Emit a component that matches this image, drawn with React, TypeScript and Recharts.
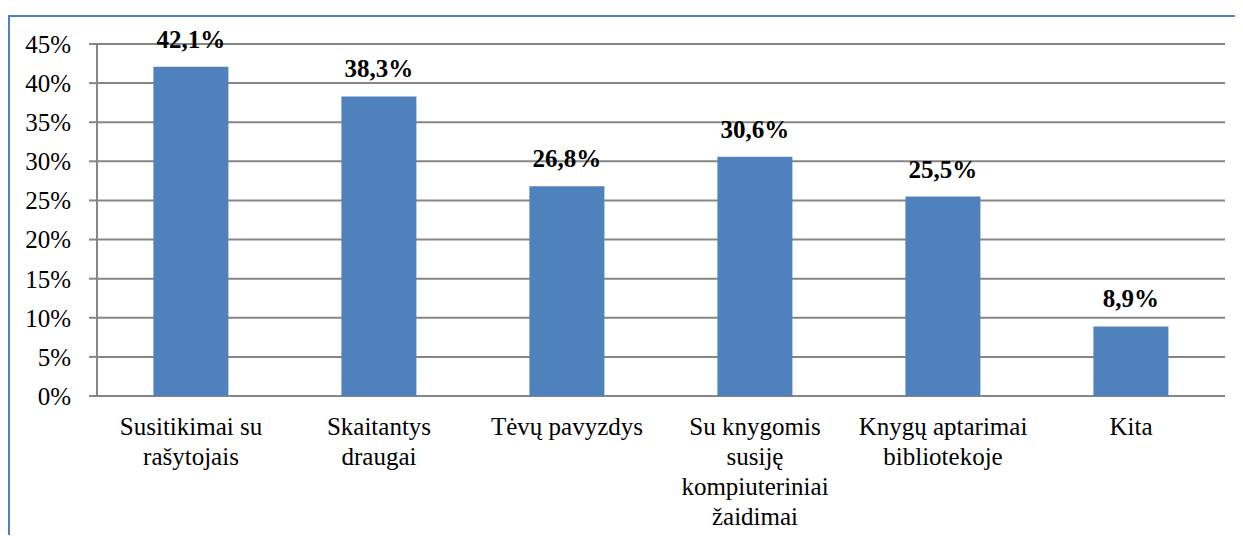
import { BarChart, Bar, XAxis, YAxis, CartesianGrid, LabelList } from 'recharts';

const categories = [
  'Susitikimai su\nrašytojais',
  'Skaitantys\ndraugai',
  'Tėvų pavyzdys',
  'Su knygomis\nsusiję\nkompiuteriniai\nžaidimai',
  'Knygų aptarimai\nbibliotekoje',
  'Kita',
];
const values = [42.1, 38.3, 26.8, 30.6, 25.5, 8.9];
const yTicks = [0, 5, 10, 15, 20, 25, 30, 35, 40, 45];
const edgeTicks = [0, 1, 2, 3, 4, 5, 6];

const data = categories.map((name, i) => ({ name, value: values[i] }));

const FONT = "'Times New Roman', Tinos, 'Liberation Serif', 'Noto Serif', 'DejaVu Serif', FreeSerif, Times, serif";
const GRID = '#868686';

const CategoryTick = ({ x, y, payload }: any) => {
  const lines = String(payload.value).split('\n');
  return (
    <text x={x} y={y} textAnchor="middle" fontFamily={FONT} fontSize={25} fill="#000">
      {lines.map((line, i) => (
        <tspan key={i} x={x} dy={i === 0 ? 39 : 30}>
          {line}
        </tspan>
      ))}
    </text>
  );
};

export default function App() {
  return (
    <div style={{ position: 'relative', width: 1227, height: 527, fontFamily: FONT }}>
      <div
        style={{
          position: 'absolute',
          left: 0,
          top: 7,
          right: 0,
          bottom: 0,
          borderTop: '2px solid #4f81bd',
          borderLeft: '2px solid #4f81bd',
        }}
      />
      <div style={{ position: 'absolute', left: 0, top: 0 }}>
        <BarChart
          width={1227}
          height={527}
          data={data}
          margin={{ top: 36, right: 10, left: 0, bottom: 0 }}
          barCategoryGap="30%"
        >
          <CartesianGrid vertical={false} stroke={GRID} strokeWidth={2} />
          <XAxis
            xAxisId="edges"
            type="number"
            domain={[0, 6]}
            ticks={edgeTicks}
            allowDataOverflow
            height={0}
            tick={false}
            tickSize={8}
            axisLine={{ stroke: GRID, strokeWidth: 2 }}
            tickLine={{ stroke: GRID, strokeWidth: 2 }}
          />
          <XAxis
            dataKey="name"
            height={139}
            interval={0}
            axisLine={false}
            tickLine={false}
            tickSize={0}
            tickMargin={0}
            tick={<CategoryTick />}
          />
          <YAxis
            width={89}
            domain={[0, 45]}
            ticks={yTicks}
            interval={0}
            tickFormatter={(v: number) => `${v}%`}
            tickSize={8}
            tickMargin={18}
            axisLine={{ stroke: GRID, strokeWidth: 2 }}
            tickLine={{ stroke: GRID, strokeWidth: 2 }}
            tick={{ fontSize: 25, fill: '#000', fontFamily: FONT }}
          />
          <Bar dataKey="value" fill="#4f81bd" isAnimationActive={false}>
            <LabelList
              dataKey="value"
              position="top"
              offset={19}
              formatter={(v: any) => `${Number(v).toFixed(1).replace('.', ',')}%`}
              fontFamily={FONT}
              fontSize={25}
              fontWeight="bold"
              fill="#000"
            />
          </Bar>
        </BarChart>
      </div>
    </div>
  );
}
